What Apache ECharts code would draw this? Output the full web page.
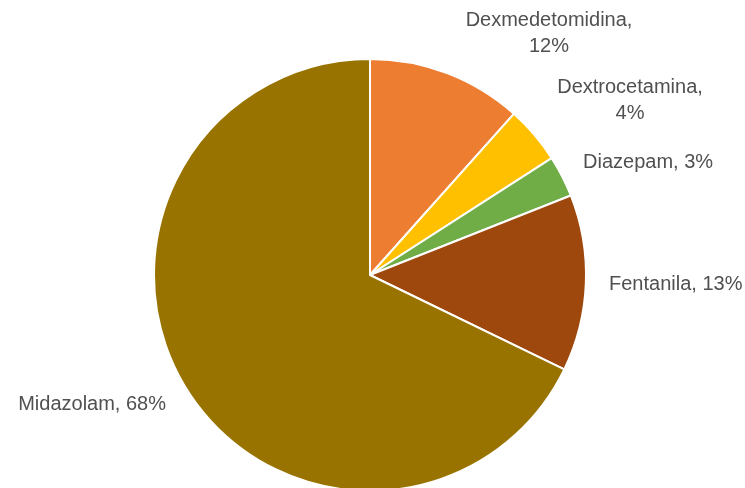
<!DOCTYPE html>
<html>
<head>
<meta charset="utf-8">
<script src="https://cdn.jsdelivr.net/npm/echarts@6/dist/echarts.min.js"></script>
<style>
html,body{margin:0;padding:0;background:#fff;}
#chart{width:745px;height:488px;}
</style>
</head>
<body>
<div id="chart"></div>
<script>
const categories = ['Dexmedetomidina', 'Dextrocetamina', 'Diazepam', 'Fentanila', 'Midazolam'];
const values = [11.6, 4.3, 3.1, 13.2, 67.8];
const colors = ['#ED7D31', '#FFC000', '#70AD47', '#9E480E', '#997300'];
const twoLineLabels = [true, true, false, false, false];
const labelSpots = [
  {x: 549, y: 33, align: 'center'},
  {x: 630, y: 100, align: 'center'},
  {x: 583, y: 162, align: 'left'},
  {x: 609, y: 284, align: 'left'},
  {x: 166, y: 404, align: 'right'}
];

const chart = echarts.init(document.getElementById('chart'));
chart.setOption({
  animation: false,
  color: colors,
  series: [{
    type: 'pie',
    center: [370, 275],
    radius: 216,
    startAngle: 90,
    clockwise: true,
    data: categories.map((c, i) => ({name: c, value: values[i]})),
    itemStyle: {borderColor: '#ffffff', borderWidth: 2},
    label: {
      show: true,
      position: 'outside',
      overflow: 'none',
      color: '#505050',
      fontFamily: 'Liberation Sans, Arial, sans-serif',
      fontSize: 20,
      lineHeight: 26,
      formatter: p => p.name + ',' + (twoLineLabels[p.dataIndex] ? '\n' : ' ') + Math.round(p.percent) + '%'
    },
    labelLine: {show: false},
    labelLayout: p => {
      const s = labelSpots[p.dataIndex];
      return {x: s.x, y: s.y, align: s.align, verticalAlign: 'middle'};
    },
    emphasis: {disabled: true}
  }]
});
</script>
</body>
</html>
